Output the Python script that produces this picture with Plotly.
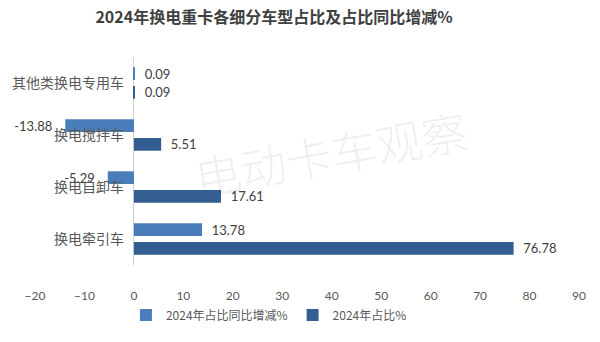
import plotly.graph_objects as go

# Vehicle segments, listed top to bottom
categories = ["其他类换电专用车", "换电搅拌车", "换电自卸车", "换电牵引车"]
# Year-on-year change of share (percentage points)
share_change = [0.09, -13.88, -5.29, 13.78]
# 2024 share (%)
share_2024 = [0.09, 5.51, 17.61, 76.78]

series_names = ["2024年占比同比增减%", "2024年占比%"]
x_ticks = [-20, -10, 0, 10, 20, 30, 40, 50, 60, 70, 80, 90]

num_font = "Lato, 'Noto Sans CJK SC', sans-serif"
cjk_font = "'Noto Sans CJK SC', sans-serif"


def bar_label(v):
    # keep a little air between the bar end and its value
    return f"{v:.2f}" + "\u00a0" * 3 if v < 0 else "\u00a0\u00a0" + f"{v:.2f}"


fig = go.Figure()
fig.add_trace(go.Bar(
    y=categories, x=share_change, orientation="h", name=series_names[0],
    marker=dict(color="#4a7ebb", line=dict(width=0)),
    text=[bar_label(v) for v in share_change], textposition="outside",
    constraintext="none",
    textfont=dict(family=num_font, size=13, color="#404040"),
    cliponaxis=False,
))
fig.add_trace(go.Bar(
    y=categories, x=share_2024, orientation="h", name=series_names[1],
    marker=dict(color="#335e91", line=dict(width=0)),
    text=[bar_label(v) for v in share_2024], textposition="outside",
    constraintext="none",
    textfont=dict(family=num_font, size=13, color="#404040"),
    cliponaxis=False,
))

fig.update_layout(
    width=600, height=342,
    margin=dict(l=33, r=21, t=57, b=73),
    paper_bgcolor="white", plot_bgcolor="white",
    barmode="group", bargap=0.28, bargroupgap=0.32,
    title=dict(
        text="<b>2024年换电重卡各细分车型占比及占比同比增减%</b>",
        x=274 / 600, xref="container", xanchor="center",
        y=1 - 17 / 342, yref="container", yanchor="middle",
        font=dict(family=cjk_font, size=16, color="#404040"),
    ),
    xaxis=dict(
        range=[-20, 90], tickvals=x_ticks,
        showgrid=False, showline=False,
        zeroline=True, zerolinecolor="#d0d0d0", zerolinewidth=1,
        ticks="", ticklabelstandoff=22,
        tickfont=dict(family=num_font, size=12, color="#595959"),
    ),
    yaxis=dict(
        autorange="reversed", anchor="free", position=20 / 110,
        showgrid=False, showline=False, zeroline=False, ticks="",
        ticklabelstandoff=10,
        tickfont=dict(family=cjk_font, size=14, color="#595959"),
    ),
    legend=dict(
        orientation="h", x=0.43, xanchor="center", y=-0.24, yanchor="middle",
        font=dict(family=cjk_font, size=12, color="#595959"),
        itemwidth=30, tracegroupgap=0,
    ),
    showlegend=True,
)

# Watermark
fig.add_annotation(
    text="电动卡车观察", xref="paper", yref="paper",
    x=(330 - 33) / 546, y=(269 - 154) / 212,
    showarrow=False, textangle=-10,
    font=dict(family=cjk_font, size=46, color="rgba(0,0,0,0.08)", weight=300),
)

fig.write_html("out.html")
